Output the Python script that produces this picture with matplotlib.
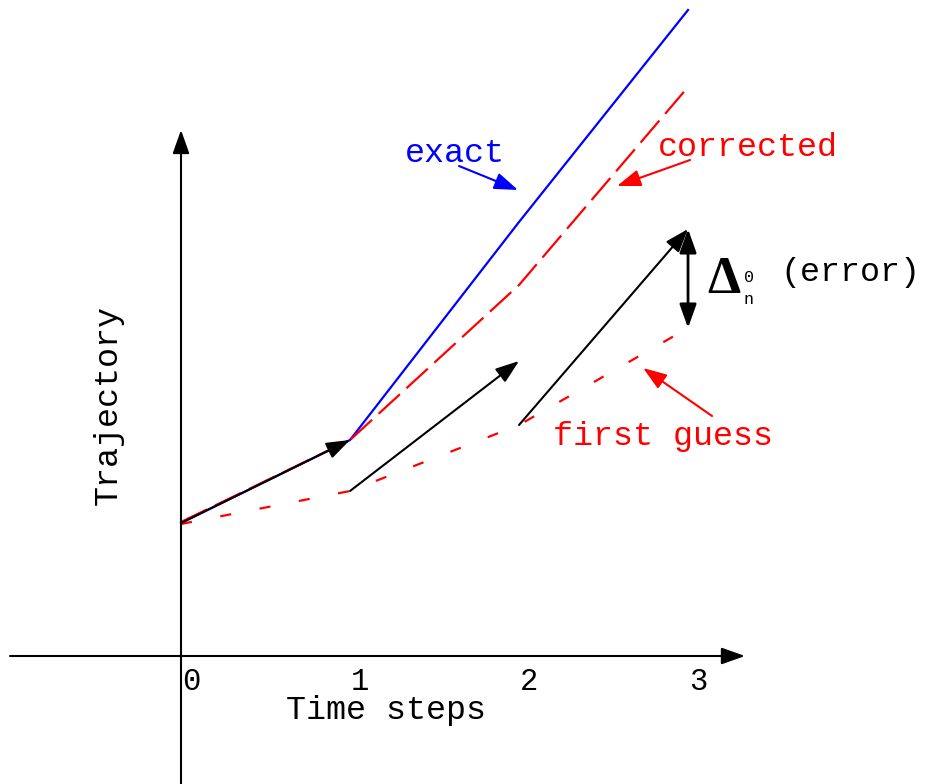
import matplotlib
matplotlib.use("Agg")
import matplotlib.pyplot as plt

# schematic values (trajectory units, one unit ~ 100 px)
time = [0, 1, 2, 3]
exact = [1.33, 2.16, 4.34, 6.46]
corrected = [1.34, 2.16, 3.71, 5.69]
first_guess = [1.32, 1.65, 2.31, 3.28]
tick_labels = ["0", "1", "2", "3"]

# predictor steps: (start, end)
steps = [((0, 1.33), (1, 2.16)),
         ((1, 1.65), (2, 2.95)),
         ((2, 2.31), (3, 4.27))]

mono = "Liberation Mono"
fs = 24

fig = plt.figure(figsize=(9.27, 7.84), dpi=100)
ax = fig.add_axes([0, 0, 1, 1])
ax.set_xlim(-1.071, 4.414)
ax.set_ylim(-1.28, 6.56)
ax.axis("off")

head = dict(arrowstyle="-|>,head_length=0.9,head_width=0.32", mutation_scale=16,
            lw=1.5, shrinkA=0, shrinkB=0)

# axes with arrows
ax.annotate("", xy=(0, 5.26), xytext=(0, -1.28), arrowprops=dict(head, color="black"))
ax.annotate("", xy=(3.337, 0), xytext=(-1.012, 0), arrowprops=dict(head, color="black"))

# trajectories
ax.plot(time, exact, color="blue", lw=1.6)
ax.plot(time, corrected, color="red", lw=1.6, dashes=(13, 4))
ax.plot(time, first_guess, color="red", lw=1.6, dashes=(5, 13))

# predictor arrows
for (x0, y0), (x1, y1) in steps:
    ax.annotate("", xy=(x1, y1), xytext=(x0, y0), arrowprops=dict(head, color="black"))

# error double arrow
ax.annotate("", xy=(3, steps[2][1][1]), xytext=(3, first_guess[3]),
            arrowprops=dict(head, arrowstyle="<|-|>,head_length=0.9,head_width=0.32",
                            lw=2, color="black"))

# tick labels
for t, lab in zip(time, tick_labels):
    ax.text(t + 0.06, -0.26, lab, fontsize=22, family=mono, ha="center", va="center")

ax.text(1.213, -0.55, "Time steps", fontsize=fs, family=mono, ha="center", va="center")
ax.text(-0.432, 2.51, "Trajectory", fontsize=fs, family=mono, ha="center", va="center",
        rotation=90)

# labels with pointers
ax.text(1.325, 5.03, "exact", fontsize=fs, family=mono, color="blue", ha="left", va="center")
ax.annotate("", xy=(1.994, 4.66), xytext=(1.645, 4.90),
            arrowprops=dict(head, color="blue"))
ax.text(2.82, 5.08, "corrected", fontsize=fs, family=mono, color="red", ha="left", va="center")
ax.annotate("", xy=(2.58, 4.70), xytext=(3.012, 4.96),
            arrowprops=dict(head, color="red"))
ax.text(2.20, 2.20, "first guess", fontsize=fs, family=mono, color="red", ha="left", va="center")
ax.annotate("", xy=(2.734, 2.88), xytext=(3.142, 2.40),
            arrowprops=dict(head, color="red"))

# error label
ax.text(3.213, 3.76, "\u0394", fontsize=38, fontweight="bold", family="Liberation Serif",
        ha="center", va="center")
ax.text(3.36, 3.79, "0", fontsize=12, family=mono, ha="center", va="center")
ax.text(3.36, 3.57, "n", fontsize=12, family=mono, ha="center", va="center")
ax.text(3.544, 3.84, "(error)", fontsize=fs, family=mono, ha="left", va="center")

fig.savefig("out.png", dpi=100)
